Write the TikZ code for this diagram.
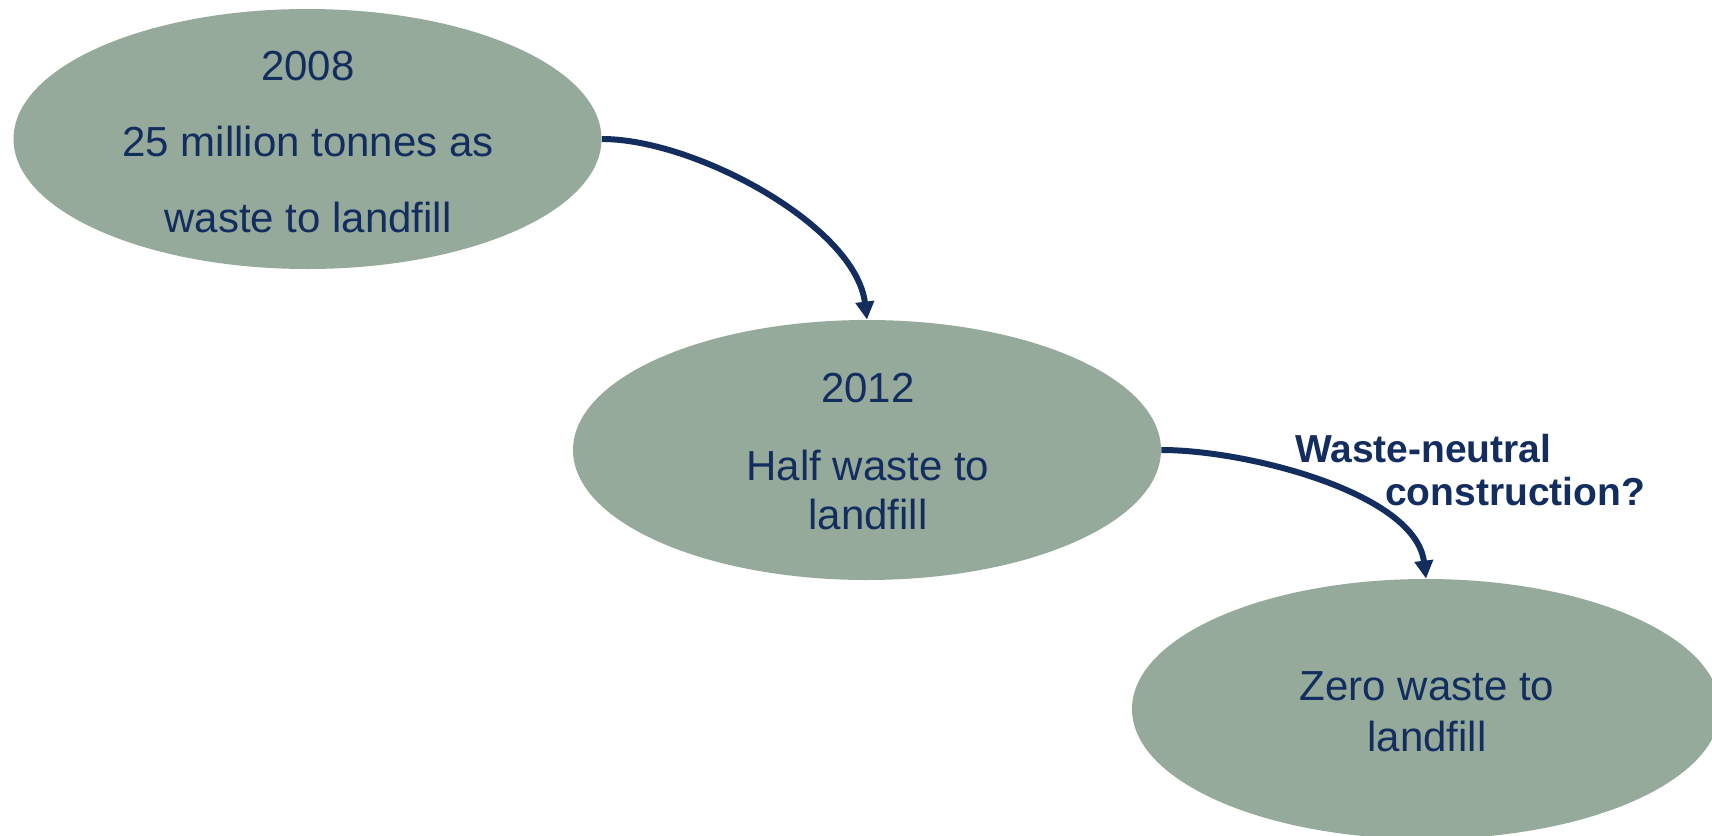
\documentclass[tikz,border=0pt]{standalone}
\usepackage{fontspec}
\setmainfont{Liberation Sans}
\usetikzlibrary{shapes.geometric,arrows.meta}
\definecolor{blobfill}{HTML}{95AA9A}
\definecolor{navy}{HTML}{122D5E}
\tikzset{
  blob/.style={ellipse, fill=blobfill, draw=none, minimum width=294pt, minimum height=130pt, inner sep=0pt},
  txt/.style={text=navy, align=center, inner sep=0pt},
  flow/.style={draw=navy, line width=3pt, -{Triangle[width=9pt,length=9pt]}},
  lbl/.style={text=navy, align=left, inner sep=0pt, font=\bfseries\fontsize{19.5pt}{21.5pt}\selectfont}
}
\begin{document}
\begin{tikzpicture}[x=0.5pt,y=-0.5pt]
\useasboundingbox (0,0) rectangle (1712,835);
\node[blob] (e1) at (307.5,139) {};
\node[blob] (e2) at (867,450) {};
\node[blob] (e3) at (1426,709) {};
\node[txt, font=\fontsize{21pt}{38pt}\selectfont] (t1) at (308,142) {2008\\25 million tonnes as\\waste to landfill};
\node[txt, font=\fontsize{21pt}{24.5pt}\selectfont] (t2) at (868,452) {2012\\[14.5pt]Half waste to\\landfill};
\node[txt, font=\fontsize{21pt}{25.5pt}\selectfont] (t3) at (1427,712) {Zero waste to\\landfill};
\node[lbl] (l1) at (1470,470) {Waste-neutral\\\hspace*{45pt}construction?};
\draw[flow] (e1.east) to[out=0,in=97,looseness=0.75] (e2.north);
\draw[flow] (e2.east) to[out=0,in=97,looseness=0.75] (e3.north);
\end{tikzpicture}
\end{document}
